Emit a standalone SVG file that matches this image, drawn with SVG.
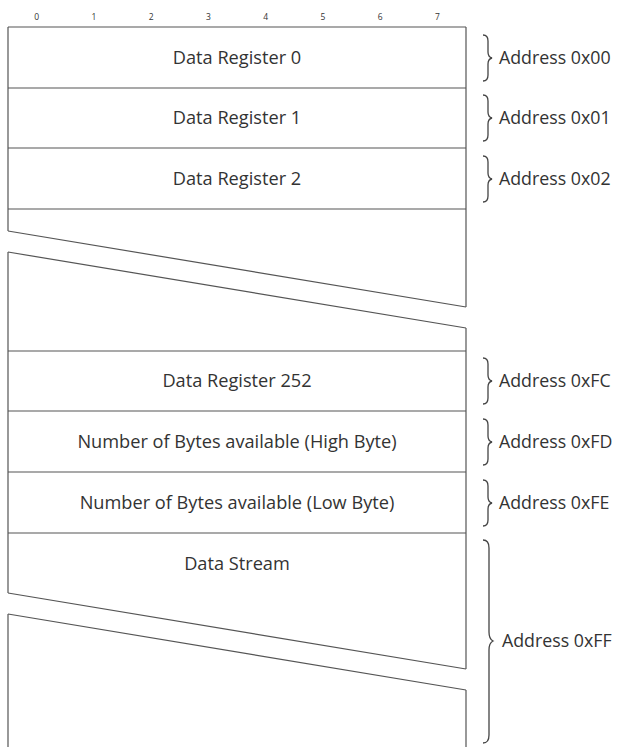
<svg xmlns="http://www.w3.org/2000/svg" width="617" height="747" viewBox="0 0 617 747">
<style>
.ln{stroke:#555;stroke-width:1.2;fill:none}
.br{stroke:#444;stroke-width:1.3;fill:none}
.t{font-family:"Open Sans","Noto Sans",sans-serif;font-size:18.2px;fill:#333;text-anchor:middle}
.a{font-family:"Open Sans","Noto Sans",sans-serif;font-size:17.8px;fill:#333}
.c{font-family:"Open Sans","Noto Sans",sans-serif;font-size:8.5px;fill:#333;text-anchor:middle}
</style>
<rect width="617" height="747" fill="#fff"/>
<g id="bits">
<text class="c" x="36.6" y="20">0</text>
<text class="c" x="93.9" y="20">1</text>
<text class="c" x="151.1" y="20">2</text>
<text class="c" x="208.4" y="20">3</text>
<text class="c" x="265.6" y="20">4</text>
<text class="c" x="322.9" y="20">5</text>
<text class="c" x="380.1" y="20">6</text>
<text class="c" x="437.4" y="20">7</text>
</g>
<g id="frame">
<path class="ln" d="M8,27 H466 M8,88 H466 M8,148 H466 M8,209 H466 M8,351 H466 M8,411 H466 M8,472 H466 M8,533 H466"/>
<path class="ln" d="M8,27 V231 M8,252 V593 M8,614 V747 M466,27 V307 M466,328 V669 M466,690 V747"/>
<path class="ln" d="M8,231 L466,307 M8,252 L466,328 M8,593 L466,669 M8,614 L466,690"/>
</g>
<g id="reg0"><text class="t" x="237" y="63.5">Data Register 0</text></g>
<g id="reg1"><text class="t" x="237" y="123.5">Data Register 1</text></g>
<g id="reg2"><text class="t" x="237" y="184.5">Data Register 2</text></g>
<g id="reg252"><text class="t" x="237" y="386.5">Data Register 252</text></g>
<g id="regFD"><text class="t" x="237" y="447.5">Number of Bytes available (High Byte)</text></g>
<g id="regFE"><text class="t" x="237" y="508.5">Number of Bytes available (Low Byte)</text></g>
<g id="stream"><text class="t" x="237" y="569.5">Data Stream</text></g>
<g id="labels">
<path class="br" d="M483,35 Q488,35 488,41 V52 Q488,57 492,58 Q488,59 488,64 V75 Q488,81 483,81"/>
<text class="a" x="499" y="63.5">Address 0x00</text>
<path class="br" d="M483,95 Q488,95 488,101 V112 Q488,117 492,118 Q488,119 488,124 V135 Q488,141 483,141"/>
<text class="a" x="499" y="123.5">Address 0x01</text>
<path class="br" d="M483,156 Q488,156 488,162 V173 Q488,178 492,179 Q488,180 488,185 V196 Q488,202 483,202"/>
<text class="a" x="499" y="184.5">Address 0x02</text>
<path class="br" d="M483,358 Q488,358 488,364 V375 Q488,380 492,381 Q488,382 488,387 V398 Q488,404 483,404"/>
<text class="a" x="499" y="386.5">Address 0xFC</text>
<path class="br" d="M483,419 Q488,419 488,425 V436 Q488,441 492,442 Q488,443 488,448 V459 Q488,465 483,465"/>
<text class="a" x="499" y="447.5">Address 0xFD</text>
<path class="br" d="M483,480 Q488,480 488,486 V497 Q488,502 492,503 Q488,504 488,509 V520 Q488,526 483,526"/>
<text class="a" x="499" y="508.5">Address 0xFE</text>
<path class="br" d="M483,540 Q489,540 489,548 V632 Q489,639 493,641 Q489,643 489,650 V735 Q489,743 483,743"/>
<text class="a" x="502" y="646.5">Address 0xFF</text>
</g>
</svg>
